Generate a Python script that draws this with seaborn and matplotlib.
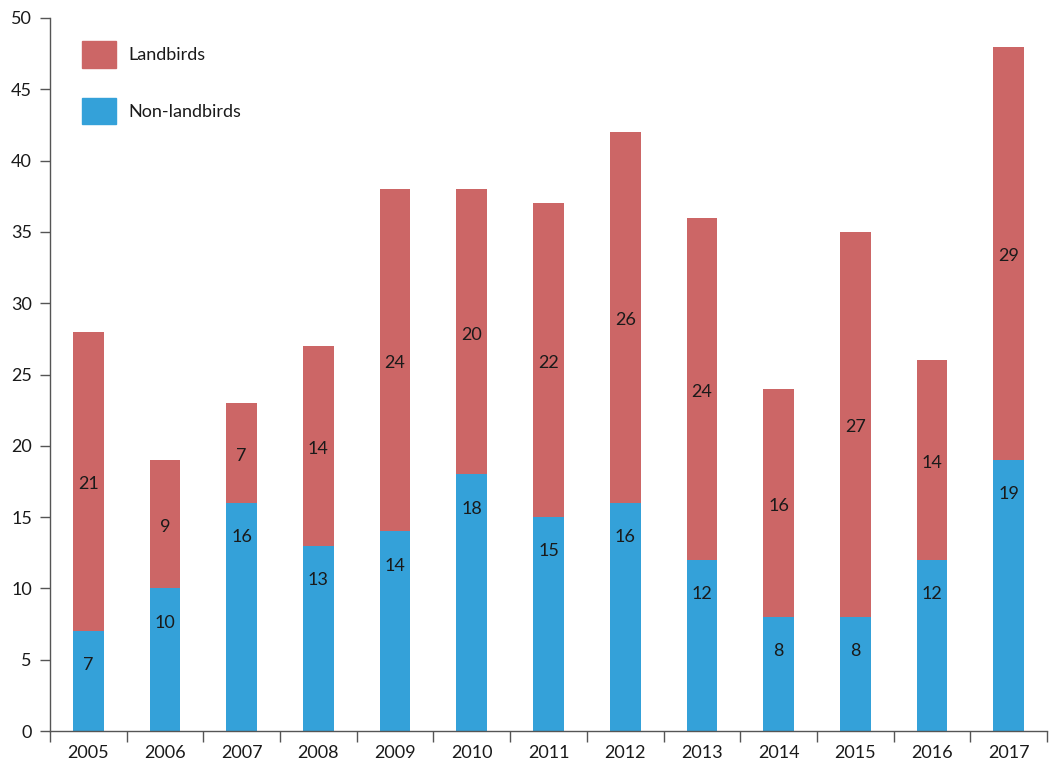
import numpy as np
import pandas as pd
import matplotlib
matplotlib.use('Agg')
import matplotlib.pyplot as plt
import seaborn as sns
from matplotlib.patches import Patch

years = ['2005', '2006', '2007', '2008', '2009', '2010', '2011',
         '2012', '2013', '2014', '2015', '2016', '2017']
non_landbirds = [7, 10, 16, 13, 14, 18, 15, 16, 12, 8, 8, 12, 19]
landbirds = [21, 9, 7, 14, 24, 20, 22, 26, 24, 16, 27, 14, 29]

red = '#CC6666'
blue = '#34A1D9'
txt = '#1a1a1a'

sns.set_style('white')
plt.rcParams['font.family'] = ['Lato', 'DejaVu Sans']

df = pd.DataFrame({'year': years, 'non': non_landbirds, 'land': landbirds})
df['total'] = df['non'] + df['land']

fig = plt.figure(figsize=(10.55, 7.69), dpi=100)
ax = fig.add_axes([0.0474, 0.0494, 0.945, 0.9272])

sns.barplot(data=df, x='year', y='total', color=red, width=0.4,
            saturation=1, linewidth=0, ax=ax)
sns.barplot(data=df, x='year', y='non', color=blue, width=0.4,
            saturation=1, linewidth=0, ax=ax)

# blue labels sit near the top of their segment, red ones in the middle
for i, row in df.iterrows():
    ax.text(i, row['non'] - 2.4, str(row['non']), ha='center', va='center',
            fontsize=13, color=txt)
    ax.text(i, row['non'] + row['land'] / 2 - 0.2, str(row['land']),
            ha='center', va='center', fontsize=13, color=txt)

ax.set_xlim(-0.5, len(years) - 0.5)
ax.set_ylim(0, 50)
ax.set_yticks(np.arange(0, 51, 5))
ax.set_xlabel('')
ax.set_ylabel('')

ax.set_xticks(np.arange(-0.5, len(years), 1), minor=True)
ax.tick_params(axis='x', which='major', length=0, labelsize=13,
               labelcolor=txt, pad=10)
ax.tick_params(axis='x', which='minor', length=8, width=1, color='#555555',
               direction='out', bottom=True)
ax.tick_params(axis='y', which='major', length=7, width=1, color='#555555',
               direction='out', left=True, labelsize=13, labelcolor=txt, pad=6)

for s in ['top', 'right']:
    ax.spines[s].set_visible(False)
for s in ['left', 'bottom']:
    ax.spines[s].set_color('#555555')
    ax.spines[s].set_linewidth(1)

handles = [Patch(color=red, label='Landbirds'),
           Patch(color=blue, label='Non-landbirds')]
leg = ax.legend(handles=handles, loc='upper left', frameon=False,
                fontsize=13, handlelength=1.85, handleheight=1.85,
                labelspacing=1.7, handletextpad=0.72,
                bbox_to_anchor=(0.016, 0.990))
for t in leg.get_texts():
    t.set_color(txt)

fig.savefig('out.png', dpi=100)
